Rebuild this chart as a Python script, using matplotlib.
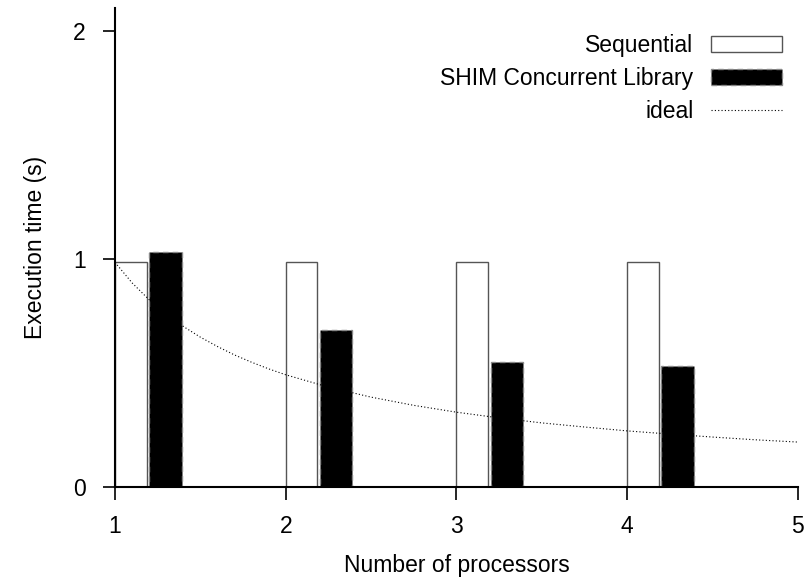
import matplotlib.pyplot as plt
from matplotlib.patches import Rectangle
from matplotlib.legend_handler import HandlerPatch
import numpy as np

plt.rcParams['font.family'] = ['Liberation Sans', 'DejaVu Sans']

# Datos
procesadores = [1, 2, 3, 4]
secuencial = [0.985, 0.985, 0.985, 0.985]
shim = [1.032, 0.689, 0.548, 0.532]

# Curva ideal
ideal_x = [1.0, 1.1, 1.2, 1.3, 1.4, 1.5, 1.6, 1.7, 1.8, 1.9, 2.0,
           2.25, 2.5, 2.75, 3.0, 3.25, 3.5, 3.75, 4.0, 4.25, 4.5, 4.75, 5.0]
ideal_y = [0.985, 0.895, 0.821, 0.758, 0.704, 0.657, 0.616, 0.579, 0.547,
           0.518, 0.492, 0.438, 0.394, 0.358, 0.328, 0.303, 0.281, 0.263,
           0.246, 0.232, 0.219, 0.207, 0.197]


def rect_bajo(legend, orig_handle, xdescent, ydescent, width, height, fontsize):
    # Rectángulo fino para la leyenda
    h = height * 0.55
    return Rectangle((-xdescent, -ydescent + (height - h) / 2), width, h)


fig = plt.figure(figsize=(8.1, 5.77), dpi=100)
ax = fig.add_axes([0.142, 0.156, 0.843, 0.830])

x = np.array(procesadores, dtype=float)
b1 = ax.bar(x, secuencial, width=0.185, align='edge', color='white',
            edgecolor='#555555', linewidth=1.0, label='Sequential', zorder=2)
b2 = ax.bar(x + 0.2, shim, width=0.19, align='edge', color='black',
            edgecolor='#888888', linewidth=1.0, linestyle=(0, (4, 3)),
            label='SHIM Concurrent Library', zorder=2)
l1, = ax.plot(ideal_x, ideal_y, color='black', linewidth=0.8,
              linestyle=(0, (1, 2)), label='ideal', zorder=3)

ax.set_xlim(1, 5)
ax.set_ylim(0, 2.1)
ax.set_xticks([1, 2, 3, 4, 5])
ax.set_yticks([0, 1, 2])
ax.tick_params(direction='out', length=9, width=1.2, labelsize=16.5)
ax.tick_params(axis='x', pad=11)
ax.tick_params(axis='y', pad=12)

for lado in ['top', 'right']:
    ax.spines[lado].set_visible(False)
for lado in ['left', 'bottom']:
    ax.spines[lado].set_linewidth(1.5)

ax.set_xlabel('Number of processors', fontsize=16.5, labelpad=12)
ax.set_ylabel('Execution time (s)', fontsize=16.5, labelpad=19)

ax.legend([b1, b2, l1], ['Sequential', 'SHIM Concurrent Library', 'ideal'],
          loc='upper right', bbox_to_anchor=(1.003, 0.985), frameon=False,
          markerfirst=False, fontsize=16.5, handlelength=3.1,
          labelspacing=0.45, handletextpad=0.75, borderpad=0.3,
          handler_map={Rectangle: HandlerPatch(patch_func=rect_bajo)})

fig.savefig('out.png', dpi=100)
